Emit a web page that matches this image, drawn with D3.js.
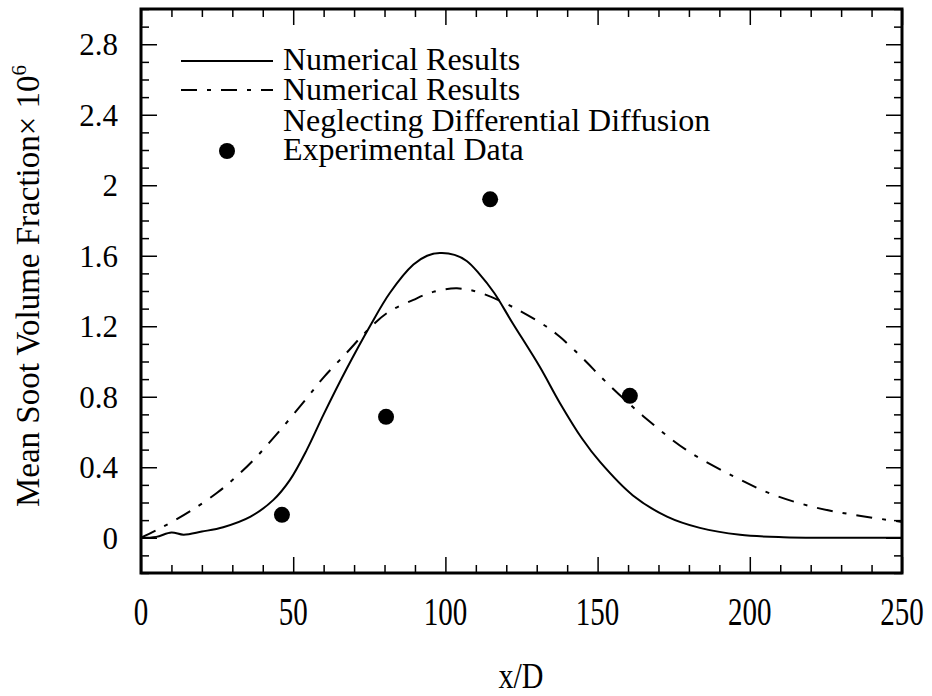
<!DOCTYPE html>
<html>
<head>
<meta charset="utf-8">
<script src="https://cdn.jsdelivr.net/npm/d3@7"></script>
<style>
  body { margin: 0; background: #fff; }
  svg text { font-family: "Liberation Serif", "Times New Roman", Times, serif; }
</style>
</head>
<body>
<div class="chart"></div>
<script>
// soot volume fraction (x 10^6) along the centreline, x/D
const solidX = [0, 5, 10, 14, 20, 27, 36, 43.5, 49, 54.5, 60, 67.6, 75.2, 81.8, 89.5, 94, 98.2, 103, 107, 111, 116, 122, 131, 137.6, 145, 150.8, 161.6, 172.8, 183.6, 196.8, 211, 225, 250];
const solidY = [0, 0.005, 0.03, 0.017, 0.035, 0.06, 0.12, 0.215, 0.33, 0.5, 0.7, 0.96, 1.2, 1.39, 1.55, 1.6, 1.615, 1.605, 1.57, 1.5, 1.39, 1.22, 0.97, 0.765, 0.56, 0.43, 0.24, 0.12, 0.056, 0.017, 0.003, 0, 0];

const dashX = [0, 5.3, 10.2, 17, 25, 31.5, 38, 45.7, 53.9, 60, 67.6, 74, 80.8, 89.5, 96, 103.8, 111.4, 122, 133, 137.6, 145, 153, 165, 179, 194.5, 207.6, 222, 236, 250];
const dashY = [0, 0.045, 0.09, 0.16, 0.255, 0.35, 0.46, 0.61, 0.78, 0.91, 1.05, 1.17, 1.275, 1.35, 1.395, 1.415, 1.39, 1.31, 1.2, 1.14, 1.02, 0.88, 0.69, 0.5, 0.35, 0.245, 0.17, 0.125, 0.09];

const expX = [46.3, 80.5, 114.7, 160.6];
const expY = [0.13, 0.686, 1.92, 0.805];

const xTicks = [0, 50, 100, 150, 200, 250];
const yTicks = [0, 0.4, 0.8, 1.2, 1.6, 2, 2.4, 2.8];
const legendLabels = ["Numerical Results", "Numerical Results", "Neglecting Differential Diffusion", "Experimental Data"];

const width = 932;
const height = 696;
const m = { left: 141, right: 902, top: 9, bottom: 573 };
const font = '"Liberation Serif", "Times New Roman", serif';

const x = d3.scaleLinear().domain([0, 250]).range([m.left, m.right]);
const y = d3.scaleLinear().domain([-0.2, 3.0]).range([m.bottom, m.top]);

const svg = d3
  .select(".chart")
  .append("svg")
  .attr("width", width)
  .attr("height", height)
  .attr("font-family", font);

// ticks, all pointing inward
const minorX = d3.range(0, 251, 10);
const minorY = d3.range(-0.2, 3.001, 0.1).map((d) => +d.toFixed(1));
const isMajorX = (d) => d % 50 === 0;
const isMajorY = (d) => Math.abs(d / 0.4 - Math.round(d / 0.4)) < 1e-6;

const tickLen = (major) => (major ? 16 : 8);

const axX = (sel, pos, dir) =>
  sel
    .call(
      d3.axisBottom(x).tickValues(minorX).tickFormat("").tickSizeOuter(0)
    )
    .attr("transform", `translate(0,${pos})`)
    .call((g) => g.select(".domain").remove())
    .call((g) =>
      g
        .selectAll(".tick line")
        .attr("y2", (d) => dir * tickLen(isMajorX(d)))
        .attr("stroke-width", 1.5)
    );

svg.append("g").call(axX, m.bottom, -1);
svg.append("g").call(axX, m.top, 1);

const axY = (sel, pos, dir) =>
  sel
    .call(d3.axisLeft(y).tickValues(minorY).tickFormat("").tickSizeOuter(0))
    .attr("transform", `translate(${pos},0)`)
    .call((g) => g.select(".domain").remove())
    .call((g) =>
      g
        .selectAll(".tick line")
        .attr("x2", (d) => dir * tickLen(isMajorY(d)))
        .attr("stroke-width", 1.5)
    );

svg.append("g").call(axY, m.left, 1);
svg.append("g").call(axY, m.right, -1);

// tick labels
svg
  .append("g")
  .attr("font-family", font)
  .attr("font-size", 31)
  .attr("text-anchor", "end")
  .selectAll("text")
  .data(yTicks)
  .join("text")
  .attr("x", 118)
  .attr("y", (d) => y(d))
  .attr("dy", "0.35em")
  .text((d) => d);

svg
  .append("g")
  .attr("font-family", font)
  .attr("font-size", 29)
  .attr("text-anchor", "middle")
  .selectAll("text")
  .data(xTicks)
  .join("text")
  .attr("transform", (d) => `translate(${x(d)},611) scale(1,1.4)`)
  .attr("dy", "0.35em")
  .text((d) => d);

// axis titles
svg
  .append("text")
  .attr("font-family", font)
  .attr("font-size", 30)
  .attr("text-anchor", "middle")
  .attr("transform", "translate(521,675) scale(1,1.2)")
  .attr("dy", "0.35em")
  .text("x/D");

const yTitle = svg
  .append("text")
  .attr("font-family", font)
  .attr("font-size", 33)
  .attr("text-anchor", "middle")
  .attr("transform", "translate(39,286) rotate(-90)");
yTitle.append("tspan").text("Mean Soot Volume Fraction× 10");
yTitle.append("tspan").attr("font-size", 21).attr("dy", -13).text("6");

// curves
const line = d3
  .line()
  .x((d) => x(d[0]))
  .y((d) => y(d[1]))
  .curve(d3.curveCatmullRom.alpha(0.5));

const plot = svg.append("g");

plot
  .append("path")
  .attr("d", line(d3.zip(dashX, dashY)))
  .attr("fill", "none")
  .attr("stroke", "#000")
  .attr("stroke-width", 2)
  .attr("stroke-dasharray", "16,10,4,10");

plot
  .append("path")
  .attr("d", line(d3.zip(solidX, solidY)))
  .attr("fill", "none")
  .attr("stroke", "#000")
  .attr("stroke-width", 2);

plot
  .append("g")
  .selectAll("circle")
  .data(d3.zip(expX, expY))
  .join("circle")
  .attr("cx", (d) => x(d[0]))
  .attr("cy", (d) => y(d[1]))
  .attr("r", 8)
  .attr("fill", "#000");

// frame
svg
  .append("rect")
  .attr("x", m.left)
  .attr("y", m.top)
  .attr("width", m.right - m.left)
  .attr("height", m.bottom - m.top)
  .attr("fill", "none")
  .attr("stroke", "#000")
  .attr("stroke-width", 3);

// legend
const legend = svg.append("g").attr("font-family", font).attr("font-size", 32);
legend
  .append("line")
  .attr("x1", 181).attr("x2", 273)
  .attr("y1", 61).attr("y2", 61)
  .attr("stroke", "#000").attr("stroke-width", 2);
legend
  .append("line")
  .attr("x1", 181).attr("x2", 273)
  .attr("y1", 90).attr("y2", 90)
  .attr("stroke", "#000").attr("stroke-width", 2)
  .attr("stroke-dasharray", "16,10,4,10");
legend
  .append("circle")
  .attr("cx", 227).attr("cy", 151).attr("r", 8).attr("fill", "#000");
legend
  .selectAll("text")
  .data(legendLabels)
  .join("text")
  .attr("x", 283)
  .attr("y", (d, i) => [70, 100, 131, 160][i])
  .text((d) => d);
</script>
</body>
</html>
